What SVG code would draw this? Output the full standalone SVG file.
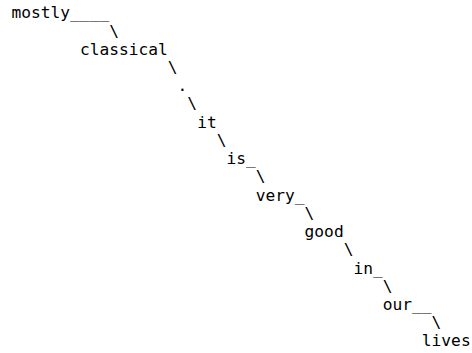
<svg xmlns="http://www.w3.org/2000/svg" width="472" height="353" viewBox="0 0 472 353">
<style>
text { font-family: "DejaVu Sans Mono", "Liberation Mono", monospace; font-size: 16.23px; fill: #000; white-space: pre; }
</style>
<rect width="472" height="353" fill="#fff"/>
<g id="connectors">
<text x="70.12" y="18.3">____</text>
<text x="109.2" y="36.53">\</text>
<text x="167.82" y="72.99">\</text>
<text x="187.36" y="109.45">\</text>
<text x="216.67" y="145.91">\</text>
<text x="245.98" y="164.14">_</text>
<text x="255.75" y="182.37">\</text>
<text x="294.83" y="200.6">_</text>
<text x="304.6" y="218.83">\</text>
<text x="343.68" y="255.29">\</text>
<text x="372.99" y="273.52">_</text>
<text x="382.76" y="291.75">\</text>
<text x="412.07" y="309.98">__</text>
<text x="431.61" y="328.21">\</text>
</g>
<g id="node-mostly"><text x="11.5" y="18.3">mostly</text></g>
<g id="node-classical"><text x="79.89" y="54.76">classical</text></g>
<g id="node-period"><text x="177.59" y="91.22">.</text></g>
<g id="node-it"><text x="197.13" y="127.68">it</text></g>
<g id="node-is"><text x="226.44" y="164.14">is</text></g>
<g id="node-very"><text x="255.75" y="200.6">very</text></g>
<g id="node-good"><text x="304.6" y="237.06">good</text></g>
<g id="node-in"><text x="353.45" y="273.52">in</text></g>
<g id="node-our"><text x="382.76" y="309.98">our</text></g>
<g id="node-lives"><text x="421.84" y="346.44">lives</text></g>
</svg>
